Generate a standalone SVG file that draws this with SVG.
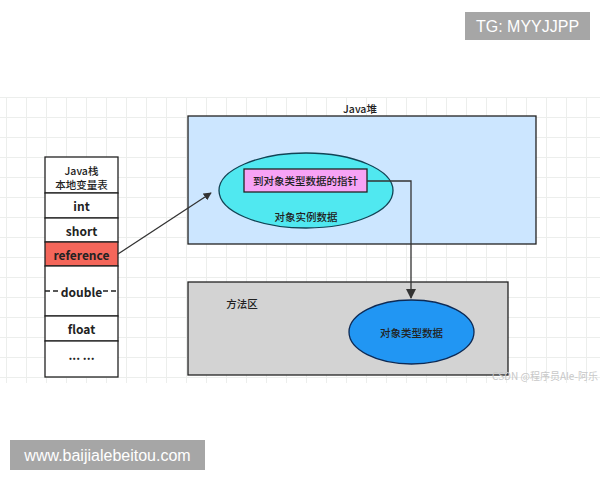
<svg xmlns="http://www.w3.org/2000/svg" width="600" height="480" viewBox="0 0 600 480">
<defs>
<pattern id="grid" patternUnits="userSpaceOnUse" x="6" y="97" width="20" height="20">
<path d="M0 0.5 H20 M0.5 0 V20" stroke="#eceeec" stroke-width="1" fill="none"/>
</pattern>
<marker id="arr" viewBox="0 0 10 10" refX="9" refY="5" markerWidth="8" markerHeight="8" markerUnits="userSpaceOnUse" orient="auto">
<path d="M0 0 L10 5 L0 10 Z" fill="#333"/>
</marker>
<marker id="arr2" viewBox="0 0 10 10" refX="9" refY="5" markerWidth="10" markerHeight="10" markerUnits="userSpaceOnUse" orient="auto">
<path d="M0 0 L10 5 L0 10 Z" fill="#333"/>
</marker>
<style>
text{font-family:"Noto Sans CJK SC","Noto Sans",sans-serif;fill:#222;text-anchor:middle;dominant-baseline:central}
.cell{fill:#fff;stroke:#222;stroke-width:1.3}
.lbl{font-size:12px;font-weight:bold}
.hdr{font-size:10.5px;font-weight:500}
.cjk{font-size:10.5px;font-weight:500}
.wm{fill:#fff;font-family:"Liberation Sans",Arial,sans-serif;font-size:16px}
.conn{stroke:#333;stroke-width:1.3;fill:none}
</style>
</defs>
<rect width="600" height="480" fill="#fff"/>
<rect x="0" y="97" width="600" height="286" fill="url(#grid)"/>

<g id="java-heap">
<rect x="188" y="116" width="348" height="128" fill="#cce6ff" stroke="#222" stroke-width="1.3"/>
<text x="360" y="108" class="cjk" font-weight="bold">Java堆</text>
</g>
<g id="instance-data">
<ellipse cx="306" cy="190.5" rx="87" ry="37.5" fill="#50e8f0" stroke="#114455" stroke-width="1.3"/>
<text x="306" y="216" class="cjk">对象实例数据</text>
</g>
<g id="type-pointer">
<rect x="244" y="169" width="123" height="23" fill="#f7a3f5" stroke="#222" stroke-width="1.3"/>
<text x="305.5" y="180.5" class="cjk">到对象类型数据的指针</text>
</g>

<g id="method-area">
<rect x="188" y="282" width="320" height="93" fill="#d3d3d3" stroke="#222" stroke-width="1.3"/>
<text x="242" y="303" class="cjk" font-weight="bold">方法区</text>
</g>
<g id="type-data">
<ellipse cx="411.5" cy="332" rx="62.5" ry="32" fill="#2196f3" stroke="#0d2a55" stroke-width="1.3"/>
<text x="411.5" y="332" class="cjk" font-size="11">对象类型数据</text>
</g>

<g id="java-stack">
<rect class="cell" x="45" y="157" width="73" height="36"/>
<text x="81.5" y="170" class="hdr">Java栈</text>
<text x="81.5" y="184" class="hdr">本地变量表</text>
<rect class="cell" x="45" y="193" width="73" height="25"/>
<text x="81.5" y="205.5" class="lbl">int</text>
<rect class="cell" x="45" y="218" width="73" height="24"/>
<text x="81.5" y="230" class="lbl">short</text>
<rect x="45" y="242" width="73" height="24" fill="#f4665a" stroke="#222" stroke-width="1.3"/>
<text x="81.5" y="254" class="lbl">reference</text>
<rect class="cell" x="45" y="266" width="73" height="50"/>
<path d="M45 291 H60 M103 291 H118" stroke="#222" stroke-width="1.3" stroke-dasharray="5 3"/>
<text x="81.5" y="291" class="lbl">double</text>
<rect class="cell" x="45" y="316" width="73" height="25"/>
<text x="81.5" y="328.5" class="lbl">float</text>
<rect class="cell" x="45" y="341" width="73" height="36"/>
<text x="81.5" y="354" class="lbl" font-weight="normal" font-size="11">... ...</text>
</g>

<g id="connectors">
<line class="conn" x1="118" y1="254" x2="211" y2="193" marker-end="url(#arr)"/>
<path class="conn" d="M367 181 H411 V298" marker-end="url(#arr2)"/>
</g>

<text x="545" y="375" font-size="10" style="fill:#c8c8c8">CSDN @程序员Ale-阿乐</text>

<g id="watermarks">
<rect x="465" y="12" width="125" height="28" fill="#a6a6a6"/>
<text x="527.5" y="26.5" class="wm">TG: MYYJJPP</text>
<rect x="10" y="440" width="195" height="30" fill="#a6a6a6"/>
<text x="107.5" y="455" class="wm" font-size="15">www.baijialebeitou.com</text>
</g>
</svg>
